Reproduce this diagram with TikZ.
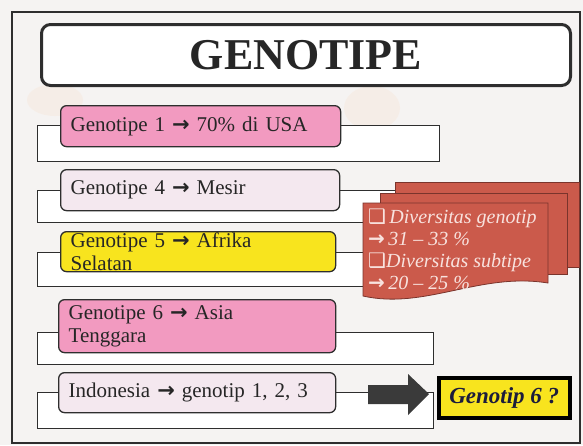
\documentclass[tikz,border=0pt]{standalone}
\usepackage{fontspec}
\setmainfont{Liberation Serif}
\newfontfamily\symfont{DejaVu Sans}
\newcommand\rarr{{\symfont\bfseries\upshape →}}
\definecolor{bgc}{HTML}{F5F3F2}
\definecolor{blobc}{HTML}{F6E2CF}
\definecolor{linec}{HTML}{2E2E2E}
\definecolor{txtc}{HTML}{262626}
\definecolor{pinkc}{HTML}{F29AC0}
\definecolor{lightc}{HTML}{F4E8EF}
\definecolor{yellowc}{HTML}{F8E41E}
\definecolor{redc}{HTML}{CB5A4B}
\definecolor{redline}{HTML}{7A342C}
\definecolor{redtxt}{HTML}{F8E2DE}
\definecolor{arrowc}{HTML}{3A3A3A}
\definecolor{navyc}{HTML}{1C1C3C}
\begin{document}
\begin{tikzpicture}[x=1pt,y=-1pt,
  frame/.style={draw=linec, line width=1.2pt},
  titlebox/.style={draw=linec, line width=3pt, rounded corners=9pt, fill=white, anchor=north west,
    font=\fontsize{44}{48}\selectfont\bfseries, text=txtc},
  rowrect/.style={draw=linec, line width=1.3pt, fill=white, anchor=north west, inner sep=0pt},
  gbox/.style={draw=linec, line width=1.3pt, rounded corners=6pt, anchor=north west,
    inner xsep=10pt, inner ysep=0pt, align=left, text=txtc,
    font=\fontsize{21}{23}\selectfont},
  doc/.style={fill=redc, draw=redline, line width=0.8pt},
  doctext/.style={anchor=base west, inner sep=0pt, text=redtxt,
    font=\fontsize{20}{22}\selectfont\itshape},
  g6box/.style={draw=black, line width=3.5pt, fill=yellowc, anchor=north west, text=navyc,
    font=\fontsize{23}{25}\selectfont\bfseries\itshape}
]
\useasboundingbox (0,0) rectangle (583,445);
\fill[bgc] (0,0) rectangle (583,445);
% faint background blobs
\fill[blobc, opacity=0.3] (55,100) ellipse (28pt and 16pt);
\fill[blobc, opacity=0.3] (372,108) ellipse (28pt and 22pt);
% outer frame
\draw[frame] (12,12) rectangle (580,443);
% title
\node[titlebox, minimum width=529pt, minimum height=61pt] (title) at (40,23) {GENOTIPE};
% row back rectangles
\node[rowrect, minimum width=402pt, minimum height=36pt] (r1) at (37,125) {};
\node[rowrect, minimum width=383pt, minimum height=32pt] (r2) at (37,190) {};
\node[rowrect, minimum width=383pt, minimum height=34pt] (r3) at (37,252) {};
\node[rowrect, minimum width=396pt, minimum height=32pt] (r4) at (37,332) {};
\node[rowrect, minimum width=396pt, minimum height=36pt] (r5) at (37,392) {};
% red multi-document
\draw[doc] (395,182) rectangle (579,267);
\draw[doc] (380,193) rectangle (567,274);
\draw[doc] (363,203) -- (548,203) -- (548,283) .. controls (480,272) and (425,310) .. (363,296) -- cycle;
\node[doctext] (d1) at (368,223) {{\symfont\upshape ❑}\,Diversitas genotip};
\node[doctext] (d2) at (368,245) {\rarr\,31 – 33 \%};
\node[doctext] (d3) at (368,267) {{\symfont\upshape ❑}Diversitas subtipe};
\node[doctext] (d4) at (368,289) {\rarr\,20 – 25 \%};
% front boxes
\node[gbox, fill=pinkc, minimum width=280pt, minimum height=41pt, text width=260pt] (b1) at (60,105) {Genotipe 1 \rarr{} 70\% di USA};
\node[gbox, fill=lightc, minimum width=279pt, minimum height=41pt, text width=259pt] (b2) at (60,169) {Genotipe 4 \rarr{} Mesir};
\node[gbox, fill=yellowc, minimum width=275pt, minimum height=40pt, text width=255pt] (b3) at (60,231) {Genotipe 5 \rarr{} Afrika\\Selatan};
\node[gbox, fill=pinkc, minimum width=277pt, minimum height=53pt, text width=257pt] (b4) at (58,299) {Genotipe 6 \rarr{} Asia\\Tenggara};
\node[gbox, fill=lightc, minimum width=277pt, minimum height=40pt, text width=257pt] (b5) at (58,372) {Indonesia \rarr{} genotip 1, 2, 3};
% block arrow
\coordinate (as) at (368,394);
\coordinate (at) at (429,394);
\fill[arrowc] (as) ++(0,-9) -- ++(40,0) -- ++(0,-11) -- (at) -- ++(-21,21) -- ++(0,-11) -- ++(-40,0) -- cycle;
% result box
\node[g6box, minimum width=131pt, minimum height=40pt] (g6) at (437,376) {Genotip 6 ?};
\end{tikzpicture}
\end{document}
